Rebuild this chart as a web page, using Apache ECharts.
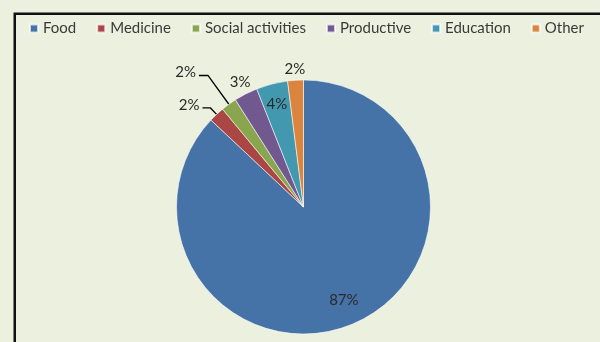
<!DOCTYPE html>
<html>
<head>
<meta charset="utf-8">
<script src="https://cdn.jsdelivr.net/npm/echarts@6/dist/echarts.min.js"></script>
<style>
  html, body { margin: 0; padding: 0; background: #EBF1DE; }
  #chart { width: 600px; height: 342px; }
</style>
</head>
<body>
<div id="chart"></div>
<script>
// Share of spending by category (%)
const categories = ['Food', 'Medicine', 'Social activities', 'Productive', 'Education', 'Other'];
const shares = [87, 2, 2, 3, 4, 2];
const colors = ['#4572A7', '#AA4643', '#89A54E', '#71588F', '#4198AF', '#DB843D'];

// Label placement: distance from centre as a fraction of the radius,
// and for leader-line labels the length of the horizontal arm.
const labelSpots = [
  { dist: 0.80 },
  { dist: 1.07, arm: 8 },
  { dist: 1.28, arm: 9 },
  { dist: 1.10 },
  { dist: 0.84 },
  { dist: 1.09 }
];

const CX = 303.5, CY = 207, R = 127;
const FONT = 'Lato';

// Mid angle (degrees, counter-clockwise from +x) of each slice, clockwise from 12 o'clock
const total = shares.reduce((a, b) => a + b, 0);
const midAngles = [];
let acc = 0;
shares.forEach(v => {
  midAngles.push(90 - (acc + v / 2) / total * 360);
  acc += v;
});
function polar(deg, r) {
  const a = deg * Math.PI / 180;
  return [CX + r * Math.cos(a), CY - r * Math.sin(a)];
}

const chart = echarts.init(document.getElementById('chart'), null, { renderer: 'canvas' });

chart.setOption({
  backgroundColor: '#EBF1DE',
  animation: false,
  color: colors,
  graphic: [{
    type: 'rect',
    shape: { x: 14.75, y: 13.75, width: 620, height: 360 },
    style: { fill: 'none', stroke: '#111', lineWidth: 2.5 },
    silent: true
  }],
  legend: {
    data: categories,
    left: 24,
    top: 16,
    width: 590,
    icon: 'rect',
    itemWidth: 8,
    itemHeight: 8,
    itemGap: 20,
    textStyle: { fontFamily: FONT, fontSize: 15, color: '#3a3a3a' }
  },
  series: [{
    type: 'pie',
    center: [CX, CY],
    radius: R,
    startAngle: 90,
    clockwise: true,
    avoidLabelOverlap: false,
    itemStyle: { borderColor: 'rgba(255,255,255,0.7)', borderWidth: 0.8 },
    label: {
      show: true,
      position: 'outside',
      formatter: '{c}%',
      fontFamily: FONT,
      fontSize: 15,
      color: '#2a2a2a'
    },
    labelLine: { show: false, lineStyle: { color: '#000', width: 1.3 } },
    labelLayout: function (p) {
      const i = p.dataIndex;
      const spot = labelSpots[i];
      const ang = midAngles[i];
      if (spot.arm) {
        const edge = polar(ang, R);
        const elbow = polar(ang, R * spot.dist);
        const end = [elbow[0] - spot.arm, elbow[1]];
        return {
          x: end[0] - 3,
          y: elbow[1] - 3,
          align: 'right',
          verticalAlign: 'middle',
          labelLinePoints: [edge, elbow, end]
        };
      }
      const pos = polar(ang, R * spot.dist);
      return { x: pos[0], y: pos[1], align: 'center', verticalAlign: 'middle' };
    },
    data: categories.map((name, i) => ({
      name: name,
      value: shares[i],
      labelLine: { show: !!labelSpots[i].arm }
    }))
  }]
});
</script>
</body>
</html>
